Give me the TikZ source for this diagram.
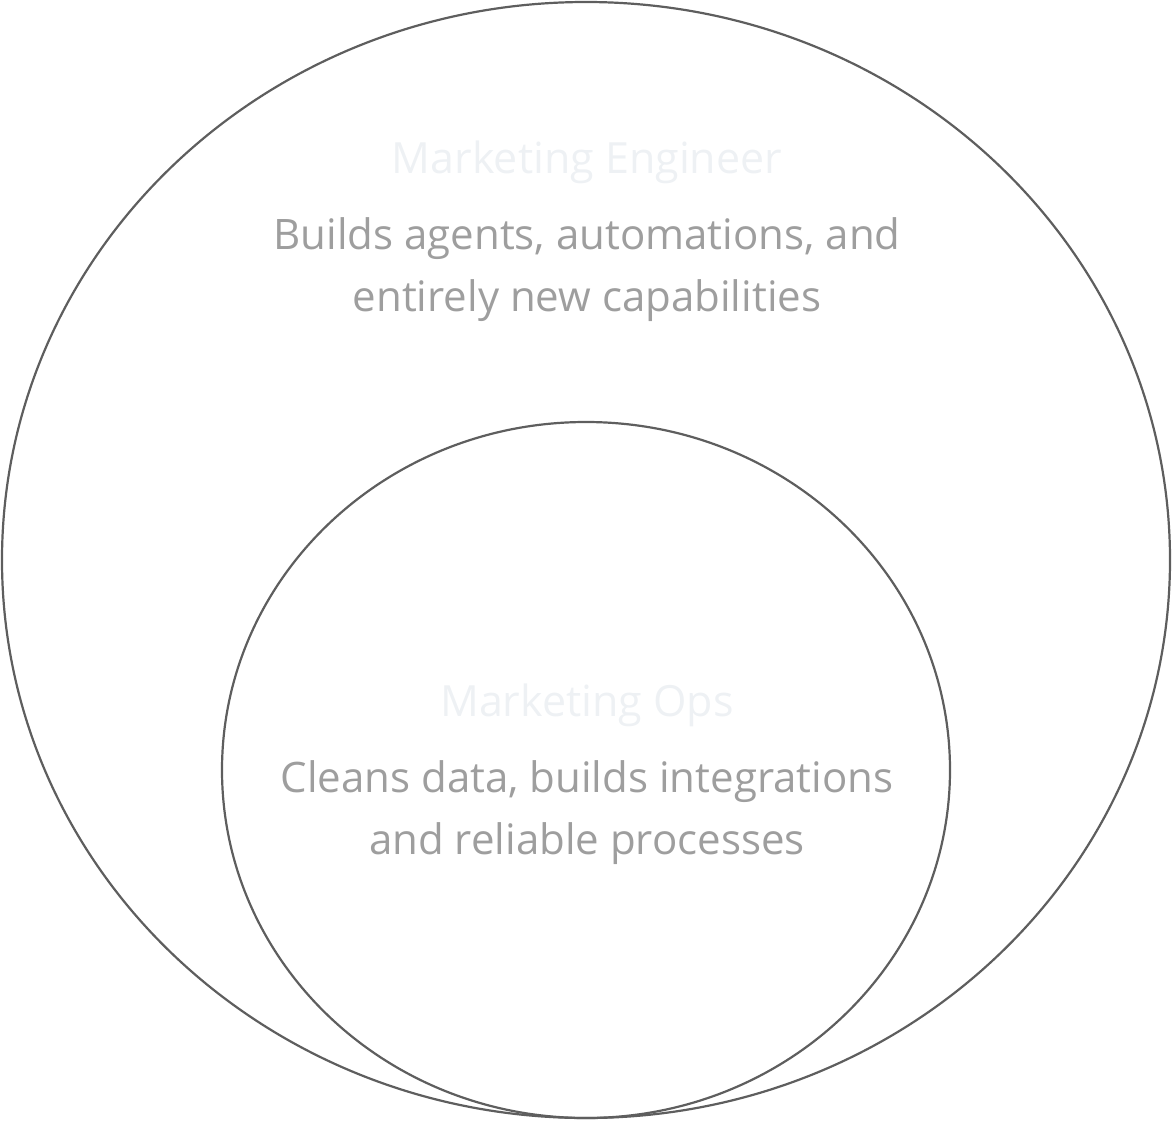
\documentclass[tikz,border=0pt]{standalone}
\usepackage{fontspec}
\setmainfont{Open Sans}
\usetikzlibrary{positioning}
\definecolor{ringgray}{HTML}{5E5E5E}
\definecolor{titlegray}{HTML}{EEF1F4}
\definecolor{bodygray}{HTML}{9E9E9E}

\begin{document}
\begin{tikzpicture}[x=1pt,y=-1pt,
        ring/.style={draw=ringgray, line width=2.2pt},
        title/.style={text=titlegray, font=\fontsize{43}{50}\selectfont},
        body/.style={text=bodygray, font=\fontsize{42}{62}\selectfont, align=center}
    ]
    \useasboundingbox (0,0) rectangle (1173,1122);
    \draw[ring] (586,560) ellipse [x radius=584, y radius=558];
    \draw[ring] (586,770) ellipse [x radius=364, y radius=348];

    \node[title]  (eng)      at (587,162) {Marketing Engineer};
    \node[body]   (engtext)  at (587,270) {Builds agents, automations, and\\entirely new capabilities};

    \node[title]  (ops)      at (587,705) {Marketing Ops};
    \node[body]   (opstext)  at (587,813) {Cleans data, builds integrations\\and reliable processes};
\end{tikzpicture}
\end{document}
